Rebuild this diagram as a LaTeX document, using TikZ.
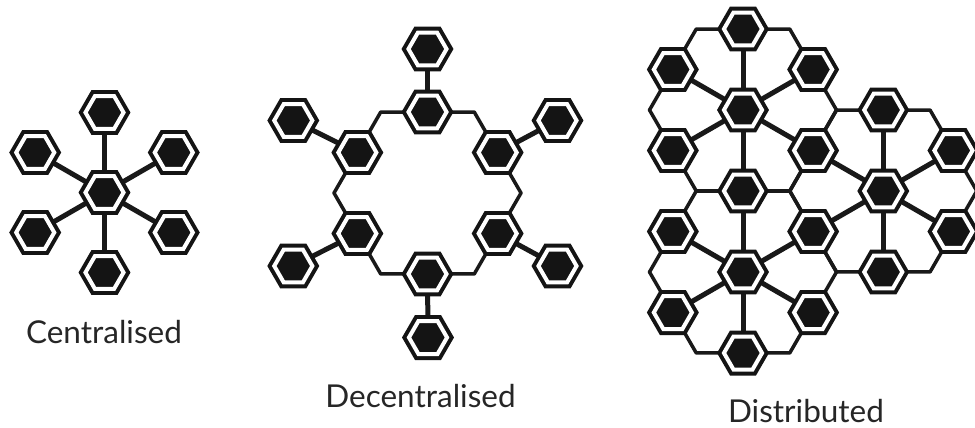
\documentclass[tikz,border=0pt]{standalone}
\usepackage{fontspec}
\setmainfont{Lato}
\usetikzlibrary{shapes.geometric,backgrounds,calc}
\begin{document}
\begin{tikzpicture}[x=1pt,y=-1pt,
  hexnode/.style={regular polygon, regular polygon sides=6, minimum size=38.1pt,
    inner sep=0pt, outer sep=0pt, fill=black!92, draw=black!92, line width=4pt, double=white,
    double distance=4pt},
  spoke/.style={line width=5pt, black!90},
  ringline/.style={line width=3.5pt, line join=round, black!90},
  lbl/.style={font=\fontsize{31.5}{36}\selectfont, anchor=base, inner sep=0pt, text=black!85}]
\useasboundingbox (0,0) rectangle (975,428);

% ---------- Centralised ----------
\node[hexnode] (c0) at (104.5,192.5) {};
\foreach \a [count=\i] in {90,30,-30,-90,-150,150}
  \node[hexnode] (c\i) at ($(c0.center)+(\a:80pt)$) {};

% ---------- Decentralised ----------
\coordinate (dc) at (427.5,193);
\foreach \a [count=\i] in {90,30,-30,-90,-150,150}
  \node[hexnode] (d\i) at ($(dc)+(\a:81pt)$) {};
\node[hexnode] (o1) at (427.5,49) {};
\node[hexnode] (o2) at (557.5,120.5) {};
\node[hexnode] (o3) at (557.5,266) {};
\node[hexnode] (o4) at (428,337.5) {};
\node[hexnode] (o5) at (293.3,266) {};
\node[hexnode] (o6) at (293.3,120.5) {};

% ---------- Distributed ----------
\node[hexnode] (p0) at (743,110) {};
\node[hexnode] (q0) at ($(p0.center)+(-90:162pt)$) {};
\node[hexnode] (s0) at ($(p0.center)+(-30:162pt)$) {};
\foreach \a [count=\i] in {90,30,-30,-90,-150,150}
  \node[hexnode] (p\i) at ($(p0.center)+(\a:81pt)$) {};
\foreach \a [count=\i from 2] in {30,-30,-90,-150,150}
  \node[hexnode] (q\i) at ($(q0.center)+(\a:81pt)$) {};
\foreach \a [count=\i] in {90,30,-30,-90}
  \node[hexnode] (s\i) at ($(s0.center)+(\a:81pt)$) {};

% ---------- Labels ----------
\node[lbl] (lc) at (104,343) {Centralised};
\node[lbl] (ld) at (420.5,407) {Decentralised};
\node[lbl] (ls) at (806,422.5) {Distributed};

% ---------- Connectors ----------
\begin{pgfonlayer}{background}
  \fill[white] (0,0) rectangle (975,428);
  \foreach \h in {dc,p0,q0,s0}
    \draw[ringline] ($(\h)+(0:93.5pt)$)
      \foreach \a in {60,120,...,300} { -- ($(\h)+(\a:93.5pt)$) } -- cycle;
  \foreach \i in {1,...,6} {
    \draw[spoke] (c0.center) -- (c\i.center);
    \draw[spoke] (d\i.center) -- (o\i.center);
    \draw[spoke] (p0.center) -- (p\i.center);
  }
  \foreach \n in {p4,q2,q3,q4,q5,q6}
    \draw[spoke] (q0.center) -- (\n.center);
  \foreach \n in {q2,p3,s1,s2,s3,s4}
    \draw[spoke] (s0.center) -- (\n.center);
\end{pgfonlayer}
\end{tikzpicture}
\end{document}
